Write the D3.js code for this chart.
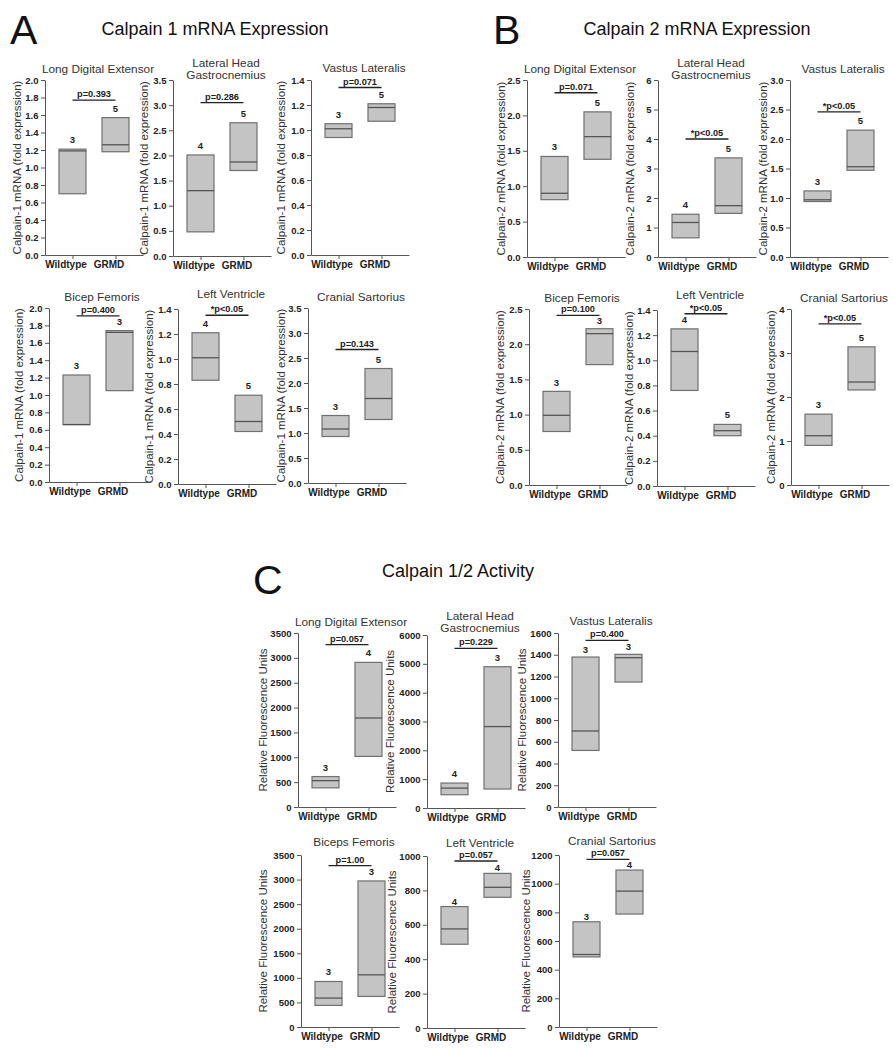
<!DOCTYPE html>
<html><head><meta charset="utf-8">
<script src="https://cdn.jsdelivr.net/npm/d3@7"></script>
<style>
body{margin:0;background:#fff;}
svg{display:block;font-family:"Liberation Sans",Arial,sans-serif;}
</style></head>
<body><svg id="chart" width="893" height="1050"></svg>
<script>
const groups = ["Wildtype", "GRMD"];

// ---- A: Calpain 1 mRNA ----
const aTitles = [["Long Digital Extensor"], ["Lateral Head", "Gastrocnemius"], ["Vastus Lateralis"], ["Bicep Femoris"], ["Left Ventricle"], ["Cranial Sartorius"]];
const aYMax = [2.0, 3.5, 1.4, 2.0, 1.4, 3.5];
const aYStep = [0.2, 0.5, 0.2, 0.2, 0.2, 0.5];
const aWildtype = [[0.70, 1.19, 1.21], [0.48, 1.30, 2.01], [0.94, 1.01, 1.05], [0.66, 0.66, 1.23], [0.83, 1.01, 1.21], [0.93, 1.08, 1.35]];
const aGRMD = [[1.18, 1.26, 1.57], [1.70, 1.87, 2.65], [1.07, 1.18, 1.21], [1.05, 1.72, 1.74], [0.42, 0.50, 0.71], [1.27, 1.69, 2.29]];
const aN = [[3, 5], [4, 5], [3, 5], [3, 3], [4, 5], [3, 5]];
const aPText = ["p=0.393", "p=0.286", "p=0.071", "p=0.400", "*p<0.05", "p=0.143"];
const aPLevel = [1.77, 3.05, 1.34, 1.91, 1.35, 2.67];

// ---- B: Calpain 2 mRNA ----
const bTitles = [["Long Digital Extensor"], ["Lateral Head", "Gastrocnemius"], ["Vastus Lateralis"], ["Bicep Femoris"], ["Left Ventricle"], ["Cranial Sartorius"]];
const bYMax = [2.5, 6, 3.0, 2.5, 1.4, 4];
const bYStep = [0.5, 1, 0.5, 0.5, 0.2, 1];
const bWildtype = [[0.81, 0.90, 1.42], [0.65, 1.17, 1.45], [0.94, 0.97, 1.12], [0.76, 0.99, 1.33], [0.76, 1.07, 1.25], [0.90, 1.12, 1.61]];
const bGRMD = [[1.38, 1.70, 2.05], [1.48, 1.74, 3.36], [1.47, 1.53, 2.15], [1.71, 2.15, 2.22], [0.40, 0.44, 0.49], [2.16, 2.34, 3.14]];
const bN = [[3, 5], [4, 5], [3, 5], [3, 3], [4, 5], [3, 5]];
const bPText = ["p=0.071", "*p<0.05", "*p<0.05", "p=0.100", "*p<0.05", "*p<0.05"];
const bPLevel = [2.32, 4.0, 2.46, 2.41, 1.37, 3.66];

// ---- C: Calpain 1/2 activity ----
const cTitles = [["Long Digital Extensor"], ["Lateral Head", "Gastrocnemius"], ["Vastus Lateralis"], ["Biceps Femoris"], ["Left Ventricle"], ["Cranial Sartorius"]];
const cYMax = [3500, 6000, 1600, 3500, 1000, 1200];
const cYStep = [500, 1000, 200, 500, 200, 200];
const cWildtype = [[385, 530, 612], [460, 690, 865], [520, 699, 1379], [440, 589, 926], [487, 576, 706], [489, 506, 734]];
const cGRMD = [[1018, 1790, 2909], [658, 2824, 4900], [1149, 1373, 1404], [622, 1062, 2972], [760, 818, 899], [788, 948, 1095]];
const cN = [[3, 4], [4, 3], [3, 3], [3, 3], [4, 4], [3, 4]];
const cPText = ["p=0.057", "p=0.229", "p=0.400", "p=1.00", "p=0.057", "p=0.057"];
const cPLevel = [3265, 5538, 1533, 3282, 971, 1170];

// ---- layout (positions only) ----
const sections = [
  { letter: "A", letterX: 10, letterY: 44, title: "Calpain 1 mRNA Expression", titleX: 215, titleY: 35,
    yLabel: "Calpain-1 mRNA (fold expression)",
    titles: aTitles, yMax: aYMax, yStep: aYStep, wt: aWildtype, grmd: aGRMD, n: aN, pText: aPText, pLevel: aPLevel,
    xs: [45, 173, 311, 49, 178, 308], tops: [80, 80, 80, 308, 309, 308], bottoms: [255, 256, 255, 482, 484, 483],
    titleDy: [[-7], [-13, -1], [-8], [-7], [-11], [-7]], yTitleDx: [-28, -29, -30, -30, -29, -27],
    nGap: [6, 6, 6, 6, 6, 6] },
  { letter: "B", letterX: 493, letterY: 44, title: "Calpain 2 mRNA Expression", titleX: 697, titleY: 35,
    yLabel: "Calpain-2 mRNA (fold expression)",
    titles: bTitles, yMax: bYMax, yStep: bYStep, wt: bWildtype, grmd: bGRMD, n: bN, pText: bPText, pLevel: bPLevel,
    xs: [527, 658, 790, 529, 657, 791], tops: [80, 80, 80, 309, 310, 309], bottoms: [257, 257, 257, 485, 486, 485],
    titleDy: [[-7], [-13, -1], [-7], [-7], [-11], [-7]], yTitleDx: [-26, -28, -27, -29, -28, -20],
    nGap: [6, 6, 6, 5, 6, 6] },
  { letter: "C", letterX: 253, letterY: 594, title: "Calpain 1/2 Activity", titleX: 458, titleY: 577,
    yLabel: "Relative Fluorescence Units",
    titles: cTitles, yMax: cYMax, yStep: cYStep, wt: cWildtype, grmd: cGRMD, n: cN, pText: cPText, pLevel: cPLevel,
    xs: [298, 427, 558, 301, 427, 559], tops: [633, 635, 633, 855, 856, 855], bottoms: [807, 808, 807, 1027, 1028, 1027],
    titleDy: [[-7], [-15, -3], [-8], [-9], [-9], [-10]], yTitleDx: [-35, -37, -36, -38, -35, -33],
    nGap: [6, 6, 4, 6, 2, 2] }
];

const svg = d3.select("#chart");
const W = 98, BOX = 27;
const txt = "#222", axisCol = "#555", boxFill = "#c4c4c4", boxStroke = "#707070", medCol = "#555";

sections.forEach(sec => {
  svg.append("text").attr("x", sec.letterX).attr("y", sec.letterY)
    .attr("font-size", 41).attr("fill", "#111").text(sec.letter);
  svg.append("text").attr("x", sec.titleX).attr("y", sec.titleY).attr("text-anchor", "middle")
    .attr("font-size", 18).attr("fill", "#111").text(sec.title);

  sec.titles.forEach((tl, i) => {
    const x0 = sec.xs[i], top = sec.tops[i], bottom = sec.bottoms[i];
    const g = svg.append("g").attr("transform", `translate(${x0},0)`);
    const y = d3.scaleLinear().domain([0, sec.yMax[i]]).range([bottom, top]);
    const x = d3.scalePoint().domain(groups).range([0, W]).padding(0.64);
    const step = sec.yStep[i];
    const fmt = step < 1 ? d3.format(".1f") : d3.format("d");
    const ticks = d3.range(0, sec.yMax[i] + step / 2, step);

    const ya = g.append("g").call(d3.axisLeft(y).tickValues(ticks).tickFormat(fmt).tickSize(4).tickSizeOuter(0).tickPadding(2.5));
    const xa = g.append("g").attr("transform", `translate(0,${bottom})`)
      .call(d3.axisBottom(x).tickSize(4).tickSizeOuter(0).tickPadding(2));
    [ya, xa].forEach(a => {
      a.selectAll("path,line").attr("stroke", axisCol).attr("stroke-width", 1);
      a.selectAll("text").attr("font-family", "'Liberation Sans',Arial,sans-serif")
        .attr("font-weight", "bold").attr("fill", txt).attr("font-size", 9.5);
    });
    xa.selectAll("text").attr("x", -7).attr("font-size", 10);

    // panel title
    tl.forEach((line, k) => {
      g.append("text").attr("x", W / 2 + 4).attr("y", top + sec.titleDy[i][k])
        .attr("text-anchor", "middle").attr("font-size", 11.8).attr("fill", "#333").text(line);
    });

    // y title
    g.append("text").attr("transform", `translate(${sec.yTitleDx[i]},${(top + bottom) / 2}) rotate(-90)`)
      .attr("text-anchor", "middle").attr("dy", "0.35em").attr("font-size", 11.5).attr("fill", "#333").text(sec.yLabel);

    // boxes
    const vals = [sec.wt[i], sec.grmd[i]];
    groups.forEach((grp, j) => {
      const v = vals[j], cx = x(grp);
      g.append("rect").attr("x", cx - BOX / 2).attr("width", BOX)
        .attr("y", y(v[2])).attr("height", y(v[0]) - y(v[2]))
        .attr("fill", boxFill).attr("stroke", boxStroke).attr("stroke-width", 1.2);
      g.append("line").attr("x1", cx - BOX / 2).attr("x2", cx + BOX / 2)
        .attr("y1", y(v[1])).attr("y2", y(v[1])).attr("stroke", medCol).attr("stroke-width", 1.3);
      g.append("text").attr("x", cx).attr("y", y(v[2]) - sec.nGap[i]).attr("text-anchor", "middle")
        .attr("font-weight", "bold").attr("font-size", 9.5).attr("fill", txt).text(sec.n[i][j]);
    });

    // significance bracket
    const py = y(sec.pLevel[i]);
    g.append("line").attr("x1", x(groups[0])).attr("x2", x(groups[1])).attr("y1", py).attr("y2", py)
      .attr("stroke", "#222").attr("stroke-width", 1.3);
    g.append("text").attr("x", (x(groups[0]) + x(groups[1])) / 2).attr("y", py - 3).attr("text-anchor", "middle")
      .attr("font-weight", "bold").attr("font-size", 9.2).attr("fill", txt).text(sec.pText[i]);
  });
});
</script>
</body></html>
